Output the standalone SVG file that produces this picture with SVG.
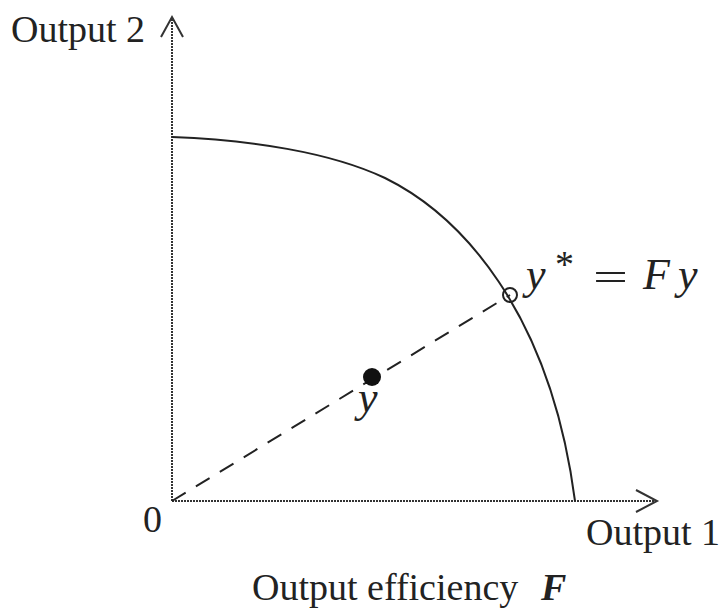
<svg xmlns="http://www.w3.org/2000/svg" width="726" height="611" viewBox="0 0 726 611">
<style>
.ax{stroke:#333;stroke-width:2;fill:none;stroke-dasharray:2 1}
.hd{stroke:#333;stroke-width:2;fill:none}
.cv{stroke:#222;stroke-width:2;fill:none}
.t{font-family:"Liberation Serif",serif;font-size:38px;fill:#222}
.m{font-family:"Liberation Serif",serif;font-size:44px;font-style:italic;fill:#222}
</style>
<rect width="726" height="611" fill="#fff"/>
<g id="connectors">
<line class="ax" x1="172" y1="501" x2="172" y2="19"/>
<polyline class="hd" points="161,37 172,17 183,37"/>
<line class="ax" x1="172" y1="501" x2="655" y2="501"/>
<polyline class="hd" points="636,490 657,501 636,512"/>
<path class="cv" d="M172,137 C250,140 330,152 385,178 C460,215 550,310 575,501"/>
<line x1="172" y1="501" x2="510" y2="295" stroke="#222" stroke-width="2" stroke-dasharray="16 12"/>
</g>
<g id="point-y">
<circle cx="372" cy="377" r="9" fill="#111"/>
<text class="m" x="358" y="412" font-size="40">y</text>
</g>
<g id="point-ystar">
<circle cx="510" cy="295" r="7" fill="none" stroke="#222" stroke-width="2"/>
<text class="m" x="526" y="289">y</text>
<text class="t" x="555" y="277" font-size="30">*</text>
<text class="t" x="593" y="290" font-size="44" textLength="35" lengthAdjust="spacingAndGlyphs">=</text>
<text class="m" x="643" y="289">F</text>
<text class="m" x="678" y="289">y</text>
</g>
<g id="labels">
<text class="t" x="11" y="42">Output 2</text>
<text class="t" x="143" y="532">0</text>
<text class="t" x="586" y="545">Output 1</text>
<text class="t" x="252" y="600" font-size="39">Output efficiency</text>
<text class="t" x="541" y="600" font-size="36" font-style="italic" font-weight="bold">F</text>
</g>
</svg>
